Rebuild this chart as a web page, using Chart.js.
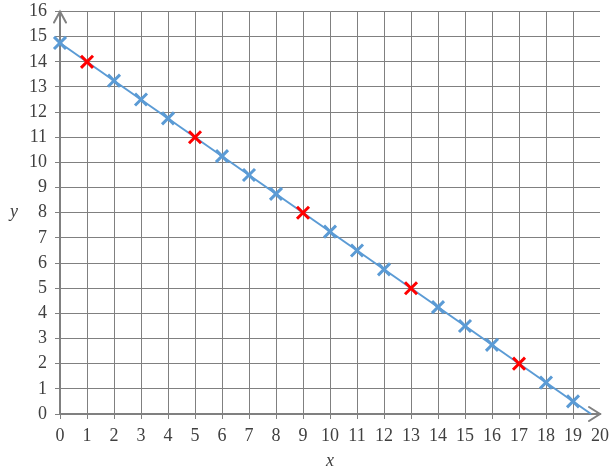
<!DOCTYPE html>
<html>
<head>
<meta charset="utf-8">
<script src="https://cdn.jsdelivr.net/npm/chart.js@4"></script>
<style>
  html, body { margin: 0; padding: 0; background: #fff; }
  #wrap { width: 614px; height: 472px; }
</style>
</head>
<body>
<div id="wrap"><canvas id="c" width="614" height="472"></canvas></div>
<script>
// marker positions
const blueX = [0, 2, 3, 4, 6, 7, 8, 10, 11, 12, 14, 15, 16, 18, 19];
const blueY = [14.75, 13.25, 12.5, 11.75, 10.25, 9.5, 8.75, 7.25, 6.5, 5.75, 4.25, 3.5, 2.75, 1.25, 0.5];
const redX = [1, 5, 9, 13, 17];
const redY = [14, 11, 8, 5, 2];
// the straight line, from the y axis to where it meets the x axis
const lineX = [0, 19.67];
const lineY = [14.75, 0];

const toPts = (xs, ys) => xs.map((x, i) => ({ x: x, y: ys[i] }));

const gridGray = "#808080";
const labelGray = "#404040";
const serif = "'Liberation Serif', 'DejaVu Serif', serif";

// arrow heads at the ends of the axes, plus the upright y title
const axisArrows = {
  id: "axisArrows",
  afterDraw(chart) {
    const ctx = chart.ctx;
    const a = chart.chartArea;
    ctx.save();
    ctx.strokeStyle = gridGray;
    ctx.lineWidth = 2;
    ctx.lineCap = "round";
    ctx.beginPath();
    ctx.moveTo(a.left - 6, a.top + 11);
    ctx.lineTo(a.left, a.top);
    ctx.lineTo(a.left + 6, a.top + 11);
    ctx.moveTo(a.right - 11, a.bottom - 7);
    ctx.lineTo(a.right, a.bottom);
    ctx.lineTo(a.right - 11, a.bottom + 7);
    ctx.stroke();

    ctx.fillStyle = labelGray;
    ctx.font = "italic 18px " + serif;
    ctx.textAlign = "center";
    ctx.textBaseline = "middle";
    ctx.fillText("y", 14, (a.top + a.bottom) / 2);
    ctx.restore();
  },
};

new Chart(document.getElementById("c"), {
  type: "scatter",
  data: {
    datasets: [
      {
        label: "line",
        data: toPts(lineX, lineY),
        showLine: true,
        borderColor: "#5B9BD5",
        borderWidth: 2,
        pointRadius: 0,
        clip: false,
        order: 3,
      },
      {
        label: "blue",
        data: toPts(blueX, blueY),
        pointStyle: "crossRot",
        pointRadius: 8.5,
        borderColor: "#5B9BD5",
        backgroundColor: "#5B9BD5",
        pointBorderWidth: 3,
        clip: false,
        order: 2,
      },
      {
        label: "red",
        data: toPts(redX, redY),
        pointStyle: "crossRot",
        pointRadius: 8.5,
        borderColor: "#FF0000",
        backgroundColor: "#FF0000",
        pointBorderWidth: 3,
        clip: false,
        order: 1,
      },
    ],
  },
  options: {
    responsive: false,
    animation: false,
    layout: { padding: { top: 10, right: 14, left: 0, bottom: 0 } },
    plugins: {
      legend: { display: false },
      tooltip: { enabled: false },
    },
    scales: {
      x: {
        type: "linear",
        min: 0,
        max: 20,
        afterFit(s) {
          s.height = 58;
          s.paddingLeft = 0;
          s.paddingRight = 0;
        },
        grid: {
          color: (c) => (c.tick && c.tick.value === 20 ? "rgba(0,0,0,0)" : gridGray),
          lineWidth: 1,
          tickLength: 5,
        },
        border: { color: gridGray, width: 2 },
        ticks: {
          stepSize: 1,
          color: labelGray,
          padding: 6,
          maxRotation: 0,
          autoSkip: false,
          font: { family: serif, size: 18 },
        },
        title: {
          display: true,
          text: "x",
          color: labelGray,
          padding: { top: 0, bottom: 0 },
          font: { family: serif, size: 18, style: "italic" },
        },
      },
      y: {
        type: "linear",
        min: 0,
        max: 16,
        afterFit(s) {
          s.width = 60;
          s.paddingTop = 0;
          s.paddingBottom = 0;
        },
        grid: {
          color: gridGray,
          lineWidth: 1,
          tickLength: 5,
        },
        border: { color: gridGray, width: 2 },
        ticks: {
          stepSize: 1,
          color: labelGray,
          padding: 8,
          autoSkip: false,
          font: { family: serif, size: 18 },
        },
        title: { display: false },
      },
    },
  },
  plugins: [axisArrows],
});
</script>
</body>
</html>
